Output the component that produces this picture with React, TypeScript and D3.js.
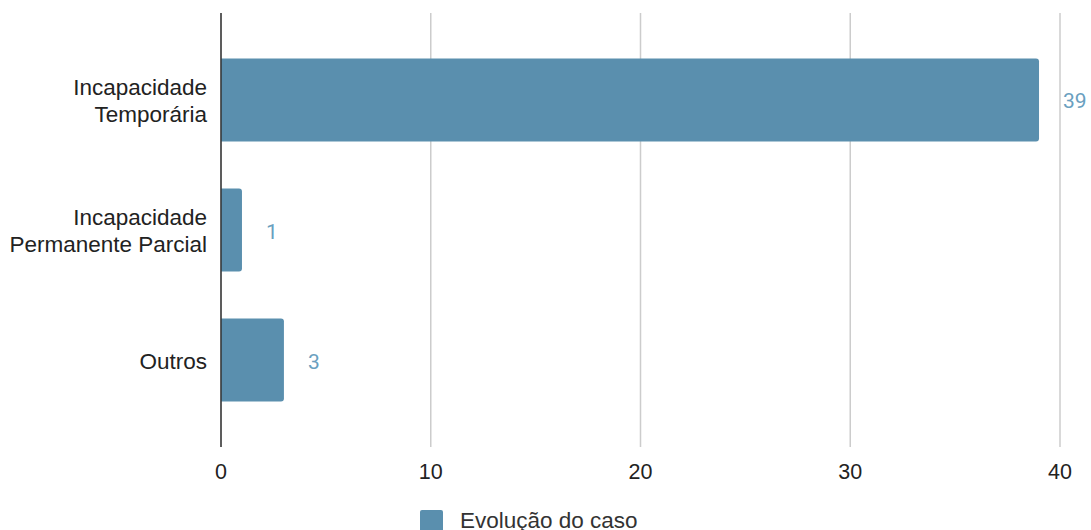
import React from "react";
import * as d3 from "d3";

const categories: string[][] = [
  ["Incapacidade", "Temporária"],
  ["Incapacidade", "Permanente Parcial"],
  ["Outros"],
];
const values: number[] = [39, 1, 3];
const ticks: number[] = [0, 10, 20, 30, 40];
const seriesName = "Evolução do caso";

const W = 1091;
const H = 530;
const BAR = "#5a8fae";
const LABEL = "#6a9fc0";
const FONT = "'Liberation Sans', Arial, sans-serif";

function barPath(x0: number, x1: number, y0: number, h: number, r: number) {
  const rr = Math.min(r, (x1 - x0) / 2, h / 2);
  const p = d3.path();
  p.moveTo(x0, y0);
  p.lineTo(x1 - rr, y0);
  p.quadraticCurveTo(x1, y0, x1, y0 + rr);
  p.lineTo(x1, y0 + h - rr);
  p.quadraticCurveTo(x1, y0 + h, x1 - rr, y0 + h);
  p.lineTo(x0, y0 + h);
  p.closePath();
  return p.toString();
}

export default function App() {
  const x = d3.scaleLinear().domain([0, 40]).range([221, 1060]);
  const keys = categories.map((c) => c.join(" "));
  const y = d3
    .scaleBand<string>()
    .domain(keys)
    .range([13, 447])
    .paddingInner(0.36)
    .paddingOuter(0.349);
  const bw = y.bandwidth();

  return (
    <svg
      width={W}
      height={H}
      style={{ position: "absolute", left: 0, top: 0, background: "#fff" }}
    >
      {ticks.map((t) => (
        <line
          key={"g" + t}
          x1={x(t)}
          x2={x(t)}
          y1={13}
          y2={447}
          stroke="#cccccc"
          strokeWidth={1.5}
        />
      ))}
      {values.map((v, i) => {
        const yy = y(keys[i])!;
        return (
          <g key={"b" + i}>
            <path d={barPath(x(0), x(v), yy, bw, 3)} fill={BAR} />
            <text
              x={x(v) + 24}
              y={yy + bw / 2 + 8.5}
              fontFamily="Roboto, sans-serif"
              fontSize={21}
              fill={LABEL}
            >
              {v}
            </text>
          </g>
        );
      })}
      <line x1={x(0)} x2={x(0)} y1={13} y2={447} stroke="#333" strokeWidth={1.5} />
      {categories.map((lines, i) => {
        const cy = y(keys[i])! + bw / 2;
        const lh = 27;
        const start = cy - ((lines.length - 1) * lh) / 2 + 8.5;
        return (
          <text
            key={"c" + i}
            textAnchor="end"
            fontFamily={FONT}
            fontSize={22.5}
            fill="#222"
          >
            {lines.map((l, j) => (
              <tspan key={j} x={207} y={start + j * lh}>
                {l}
              </tspan>
            ))}
          </text>
        );
      })}
      {ticks.map((t) => (
        <text
          key={"t" + t}
          x={x(t)}
          y={479}
          textAnchor="middle"
          fontFamily={FONT}
          fontSize={21.5}
          fill="#222"
        >
          {t}
        </text>
      ))}
      <rect x={420} y={510} width={23} height={23} rx={2} fill={BAR} />
      <text x={460} y={527.5} fontFamily={FONT} fontSize={22.5} fill="#333">
        {seriesName}
      </text>
    </svg>
  );
}
